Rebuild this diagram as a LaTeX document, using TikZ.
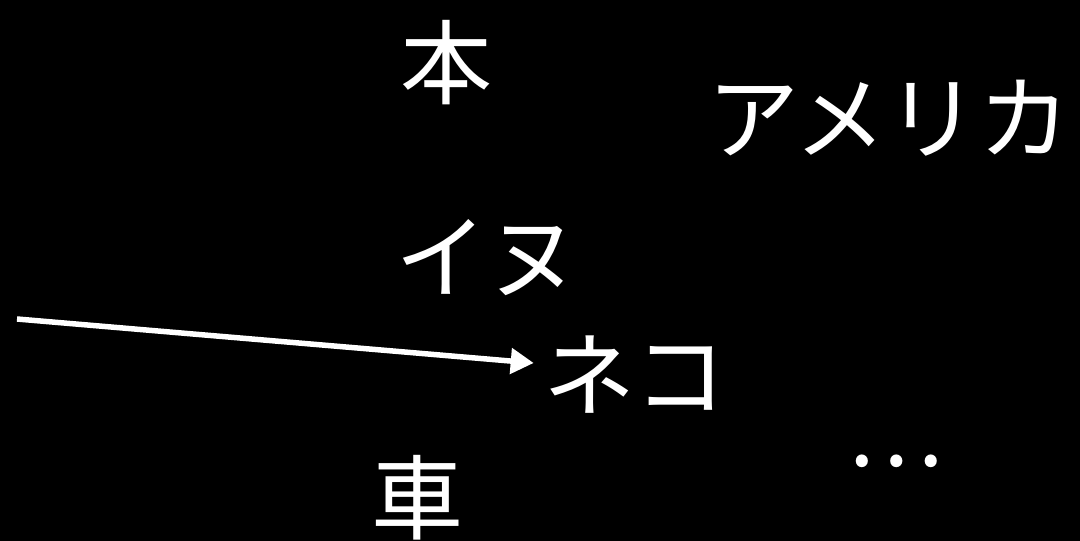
\documentclass[tikz,border=0pt]{standalone}
\usepackage{fontspec}
\newfontfamily\cjk{Noto Sans CJK JP}
\usetikzlibrary{arrows.meta}
\begin{document}
\begin{tikzpicture}[x=1pt,y=-1pt,
  word/.style={text=white,font=\cjk\fontsize{92}{96}\selectfont,inner sep=0pt,anchor=center},
  link/.style={draw=white,line width=5.5pt,-{Triangle[length=23pt,width=25pt]}}]
\fill[black] (0,0) rectangle (1080,541);
\useasboundingbox (0,0) rectangle (1080,541);
\node[word] (hon) at (446,63) {本};
\node[word] (amerika) at (889,118) {アメリカ};
\node[word] (inu) at (487,258) {イヌ};
\node[word] (neko) at (635,375) {ネコ};
\node[word] (dots) at (895,461) {…};
\node[word] (kuruma) at (417,498) {車};
\coordinate (start) at (17,319);
\draw[link] (start) -- ([xshift=-10pt,yshift=12pt]neko.west);
\end{tikzpicture}
\end{document}
